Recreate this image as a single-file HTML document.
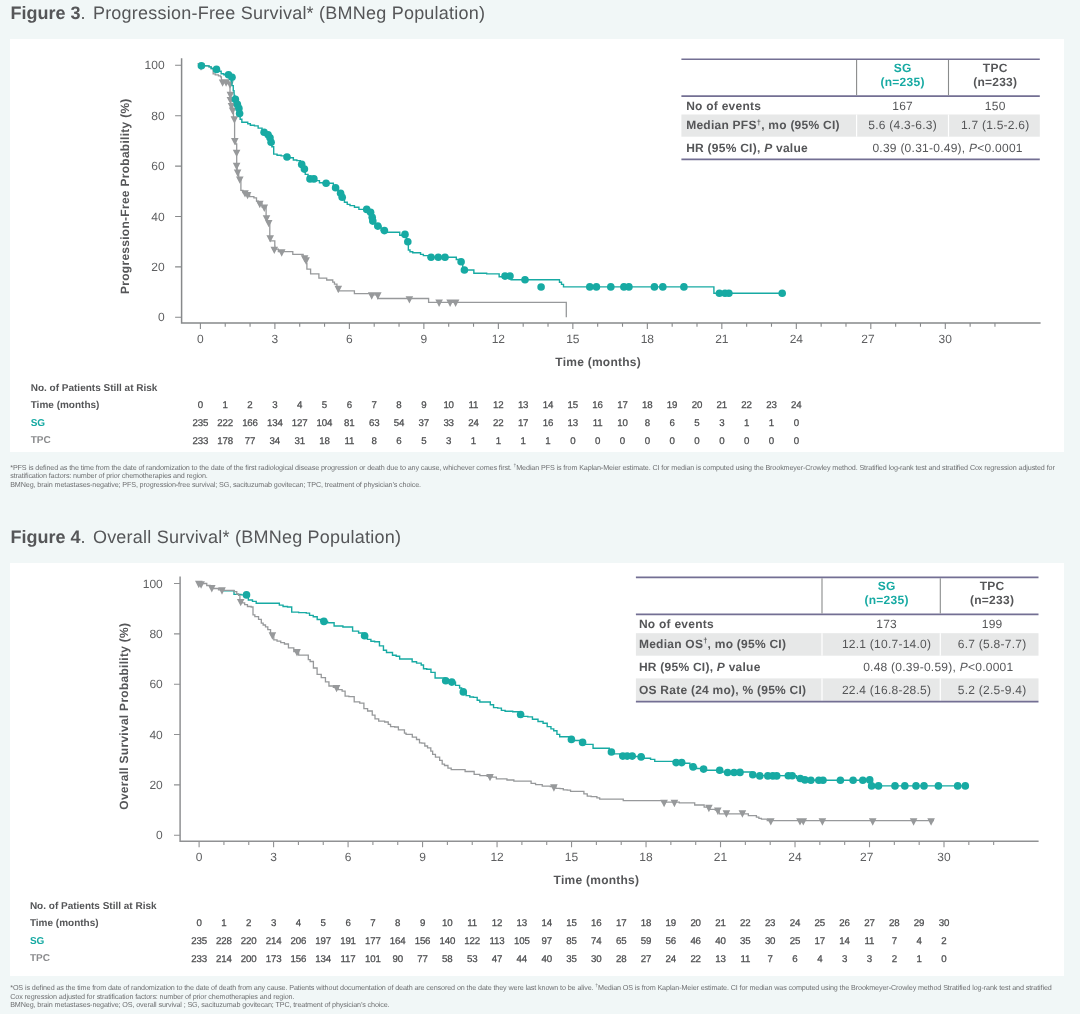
<!DOCTYPE html>
<html><head><meta charset="utf-8"><title>Figures</title>
<style>
html,body{margin:0;padding:0}
body{width:1080px;height:1014px;overflow:hidden;position:relative;background:#f1f7f7;font-family:"Liberation Sans", sans-serif;color:#555658}
</style></head><body>
<svg width="1080" height="1014" viewBox="0 0 1080 1014" style="position:absolute;left:0;top:0;will-change:transform" text-rendering="geometricPrecision" font-family='"Liberation Sans", sans-serif'><rect x="10" y="39" width="1054" height="413" fill="#fff"/><rect x="10" y="563" width="1054" height="413" fill="#fff"/><path d="M181.6,58.3 V323.1 H1040.6" fill="none" stroke="#87898b" stroke-width="1.5"/><path d="M175.1,317.3 H181.6 M175.1,266.9 H181.6 M175.1,216.5 H181.6 M175.1,166.1 H181.6 M175.1,115.7 H181.6 M175.1,65.3 H181.6 M200.4,323.1 V329.1 M225.23,323.1 V326.8 M250.06,323.1 V326.8 M274.89,323.1 V329.1 M299.72,323.1 V326.8 M324.55,323.1 V326.8 M349.38,323.1 V329.1 M374.21,323.1 V326.8 M399.04,323.1 V326.8 M423.87,323.1 V329.1 M448.7,323.1 V326.8 M473.53,323.1 V326.8 M498.36,323.1 V329.1 M523.19,323.1 V326.8 M548.02,323.1 V326.8 M572.85,323.1 V329.1 M597.68,323.1 V326.8 M622.51,323.1 V326.8 M647.34,323.1 V329.1 M672.17,323.1 V326.8 M697,323.1 V326.8 M721.83,323.1 V329.1 M746.66,323.1 V326.8 M771.49,323.1 V326.8 M796.32,323.1 V329.1 M821.15,323.1 V326.8 M845.98,323.1 V326.8 M870.81,323.1 V329.1 M895.64,323.1 V326.8 M920.47,323.1 V326.8 M945.3,323.1 V329.1 M970.13,323.1 V326.8 M994.96,323.1 V326.8" fill="none" stroke="#87898b" stroke-width="1.1"/><g font-size="12" fill="#5e5f61"><text x="164.6" y="321.4" text-anchor="end">0</text><text x="164.6" y="271" text-anchor="end">20</text><text x="164.6" y="220.6" text-anchor="end">40</text><text x="164.6" y="170.2" text-anchor="end">60</text><text x="164.6" y="119.8" text-anchor="end">80</text><text x="164.6" y="69.4" text-anchor="end">100</text><text x="200.4" y="343" text-anchor="middle">0</text><text x="274.89" y="343" text-anchor="middle">3</text><text x="349.38" y="343" text-anchor="middle">6</text><text x="423.87" y="343" text-anchor="middle">9</text><text x="498.36" y="343" text-anchor="middle">12</text><text x="572.85" y="343" text-anchor="middle">15</text><text x="647.34" y="343" text-anchor="middle">18</text><text x="721.83" y="343" text-anchor="middle">21</text><text x="796.32" y="343" text-anchor="middle">24</text><text x="868.01" y="343" text-anchor="middle">27</text><text x="945.3" y="343" text-anchor="middle">30</text></g><text x="555.3" y="365.9" font-size="12" font-weight="bold" letter-spacing="0.25" fill="#555658">Time (months)</text><text transform="translate(129.3,196.2) rotate(-90)" text-anchor="middle" font-size="12" font-weight="bold" letter-spacing="0.28" fill="#555658">Progression-Free Probability (%)</text><path d="M201,65.7 L208.8,65.9 L209.05,65.9 L209.05,66.9 L209.3,66.9 L211.15,66.9 L211.15,68.5 L213,68.5 L213.15,68.5 L213.15,73.8 L213.3,73.8 L215.25,73.8 L215.25,74.8 L217.2,74.8 L218.45,74.8 L218.45,75.8 L219.7,75.8 L220.55,75.8 L220.55,76.8 L221.4,76.8 L221.4,80 L222,80 L222,81.9 L222.6,81.9 L226.1,81.9 L228.05,81.9 L228.05,83.7 L230,83.7 L230,94.5 L230.2,94.5 L230.2,99.4 L230.4,99.4 L230.65,99.4 L230.65,103.4 L230.9,103.4 L231.2,103.4 L231.2,105.4 L231.5,105.4 L232.05,105.4 L232.05,109.9 L232.6,109.9 L233.5,109.9 L233.5,118.7 L234.4,118.7 L234.6,118.7 L234.6,140.4 L234.8,140.4 L235.75,140.4 L235.75,144 L236.7,144 L236.7,164.4 L237.15,164.4 L237.15,171.9 L237.6,171.9 L238.7,171.9 L238.7,178.9 L239.8,178.9 L240.9,178.9 L240.9,190.4 L242.95,190.4 L242.95,192.6 L245,192.6 L246.3,192.6 L246.3,194.4 L247.6,194.4 L249.65,194.4 L249.65,196.7 L251.7,196.7 L253.9,196.7 L253.9,197.8 L256.1,197.8 L256.5,197.8 L256.5,201.1 L256.9,201.1 L258.35,201.1 L258.35,203.3 L259.8,203.3 L262.05,203.3 L262.05,207 L264.3,207 L266.1,207 L266.1,217.6 L267.4,217.6 L267.4,222.4 L268.7,222.4 L269.8,222.4 L269.8,237.6 L270.2,237.6 L270.2,240.9 L270.6,240.9 L274.6,240.9 L274.8,240.9 L274.8,246.1 L275,246.1 L275,249.1 L278.35,249.1 L278.35,251.7 L281.7,251.7 L292.8,251.7 L292.8,254.3 L301.7,254.3 L303.15,254.3 L303.15,257.6 L304.6,257.6 L305.35,257.6 L305.35,259.8 L306.1,259.8 L306.5,259.8 L306.5,263.5 L306.9,263.5 L306.9,269.2 L310.6,269.2 L310.6,273.9 L318.9,273.9 L318.9,278.1 L326.7,278.1 L326.7,280 L332.2,280 L332.75,280 L332.75,282.2 L333.3,282.2 L334.45,282.2 L334.45,284.1 L335.6,284.1 L336.95,284.1 L336.95,288.3 L338.3,288.3 L338.3,290.8 L354.4,290.8 L354.4,293.6 L368.9,293.6 L370.3,293.6 L370.3,294.8 L371.7,294.8 L377.8,294.8 L377.8,298.5 L428.6,298.5 L428.6,302.3 L566.3,302.3 L566.3,317.3" fill="none" stroke="#97999b" stroke-width="1.3" stroke-linejoin="miter"/><path d="M197.2,63.23 L204.8,63.23 L201,70.63 Z M218.8,79.43 L226.4,79.43 L222.6,86.83 Z M222.3,79.23 L229.9,79.23 L226.1,86.63 Z M226.2,81.23 L233.8,81.23 L230,88.63 Z M226.6,91.83 L234.2,91.83 L230.4,99.23 Z M226.6,96.93 L234.2,96.93 L230.4,104.33 Z M227.7,102.93 L235.3,102.93 L231.5,110.33 Z M228.8,107.43 L236.4,107.43 L232.6,114.83 Z M230.6,116.23 L238.2,116.23 L234.4,123.63 Z M231,137.93 L238.6,137.93 L234.8,145.33 Z M232.8,149.63 L240.4,149.63 L236.6,157.03 Z M232.8,162.73 L240.4,162.73 L236.6,170.13 Z M233.8,169.43 L241.4,169.43 L237.6,176.83 Z M236,176.43 L243.6,176.43 L239.8,183.83 Z M241.2,190.13 L248.8,190.13 L245,197.53 Z M243.8,191.93 L251.4,191.93 L247.6,199.33 Z M256,200.83 L263.6,200.83 L259.8,208.23 Z M260.5,204.53 L268.1,204.53 L264.3,211.93 Z M262.7,215.13 L270.3,215.13 L266.5,222.53 Z M264.9,219.93 L272.5,219.93 L268.7,227.33 Z M266.4,235.13 L274,235.13 L270.2,242.53 Z M270.5,246.63 L278.1,246.63 L274.3,254.03 Z M277.9,249.23 L285.5,249.23 L281.7,256.63 Z M300.8,255.13 L308.4,255.13 L304.6,262.53 Z M302.3,257.33 L309.9,257.33 L306.1,264.73 Z M334.5,285.83 L342.1,285.83 L338.3,293.23 Z M367.9,292.33 L375.5,292.33 L371.7,299.73 Z M374,292.33 L381.6,292.33 L377.8,299.73 Z M405.6,296.13 L413.2,296.13 L409.4,303.53 Z M435.3,299.53 L442.9,299.53 L439.1,306.93 Z M446.3,299.53 L453.9,299.53 L450.1,306.93 Z M451.8,299.53 L459.4,299.53 L455.6,306.93 Z" fill="#97999b"/><path d="M201.4,65.7 L208.8,65.9 L209.05,65.9 L209.05,66.9 L209.3,66.9 L211.15,66.9 L211.15,68.5 L213,68.5 L214.75,68.5 L214.75,69.4 L216.5,69.4 L218.1,69.4 L218.1,71.3 L219.7,71.3 L221.15,71.3 L221.15,73.8 L222.6,73.8 L223.85,73.8 L223.85,74.8 L225.1,74.8 L228.5,74.8 L230.1,74.8 L230.1,77.3 L231.7,77.3 L231.5,81.2 L232,81.2 L232,85.6 L232.5,85.6 L233.25,85.6 L233.25,90.6 L234,90.6 L234.2,95.5 L234.8,95.5 L234.8,99.4 L235.4,99.4 L236.4,99.4 L236.4,104.4 L237.4,104.4 L238.15,104.4 L238.15,108.4 L238.9,108.4 L239.25,108.4 L239.25,113.6 L239.6,113.6 L240.15,113.6 L240.15,119.3 L240.7,119.3 L241.85,119.3 L241.85,122.2 L243,122.2 L247.4,122.2 L247.75,122.2 L247.75,123.7 L248.1,123.7 L250.35,123.7 L250.35,125.2 L252.6,125.2 L254.45,125.2 L254.45,125.9 L256.3,125.9 L258.15,125.9 L258.15,128.1 L260,128.1 L262.05,128.1 L262.05,132.2 L264.1,132.2 L266.1,132.2 L266.1,134.8 L268.1,134.8 L269.05,134.8 L269.05,137.8 L270,137.8 L270.55,137.8 L270.55,142.2 L271.1,142.2 L271.85,142.2 L271.85,146.7 L272.6,146.7 L273.7,146.7 L273.7,154.1 L274.8,154.1 L277.05,154.1 L277.05,155.2 L279.3,155.2 L281.15,155.2 L281.15,155.9 L283,155.9 L285,155.9 L285,157 L287,157 L289.45,157 L289.45,157.8 L291.9,157.8 L293.35,157.8 L293.35,160 L294.8,160 L296.85,160 L296.85,160.6 L298.9,160.6 L300.3,160.6 L300.3,164.4 L301.7,164.4 L303.05,164.4 L303.05,169.1 L304.4,169.1 L305.25,169.1 L305.25,174.4 L306.1,174.4 L308.05,174.4 L308.05,178.9 L310,178.9 L313.9,178.9 L315.85,178.9 L315.85,180.6 L317.8,180.6 L319.45,180.6 L319.45,182.8 L321.1,182.8 L323.6,182.8 L323.6,183.3 L326.1,183.3 L331.1,183.3 L333.35,183.3 L333.35,187.8 L335.6,187.8 L338.1,187.8 L338.1,193.3 L340.6,193.3 L341.4,193.3 L341.4,197.2 L342.2,197.2 L344.45,197.2 L344.45,202.2 L346.7,202.2 L347.25,202.2 L347.25,204.4 L347.8,204.4 L350,204.4 L350,205.6 L352.2,205.6 L354.45,205.6 L354.45,207.2 L356.7,207.2 L358.9,207.2 L358.9,209.4 L361.1,209.4 L366.7,209.4 L368.65,209.4 L368.65,212.2 L370.6,212.2 L371.4,212.2 L371.4,217.2 L372.2,217.2 L372.5,217.2 L372.5,221.1 L372.8,221.1 L375.3,221.1 L375.3,226.1 L377.8,226.1 L381.1,226.1 L381.1,230.6 L384.4,230.6 L386.1,230.6 L386.1,232.2 L387.8,232.2 L398.9,232.2 L399.75,232.2 L399.75,235.2 L400.6,235.2 L405,235.2 L406.4,235.2 L406.4,241.7 L407.8,241.7 L408.35,241.7 L408.35,250 L408.9,250 L410,250 L410,251.7 L411.1,251.7 L412.75,251.7 L412.75,252.8 L414.4,252.8 L420,252.8 L420.55,252.8 L420.55,254.4 L421.1,254.4 L423.35,254.4 L423.35,255.6 L425.6,255.6 L428.35,255.6 L428.35,257.2 L431.1,257.2 L455.6,257.2 L456.3,257.2 L456.3,259.5 L457,259.5 L459.05,259.5 L459.05,261.7 L461.1,261.7 L462.75,261.7 L462.75,270 L464.4,270 L473.3,270 L473.85,270 L473.85,273.3 L474.4,273.3 L486.65,273.3 L486.65,273.9 L498.9,273.9 L499.15,273.9 L499.15,276.7 L499.4,276.7 L510,276.7 L511.1,276.7 L511.1,279.8 L512.2,279.8 L559.5,279.8 L559.5,282.2 L561.5,282.2 L561.5,284.4 L563.5,284.4 L563.5,286.9 L713.9,286.9 L713.9,293.3 L782.2,293.3" fill="none" stroke="#17aaa3" stroke-width="1.4"/><g fill="#17aaa3"><circle cx="201.4" cy="65.7" r="3.8"/><circle cx="216.5" cy="69.4" r="3.8"/><circle cx="228.5" cy="74.8" r="3.8"/><circle cx="232" cy="77.3" r="3.8"/><circle cx="235.4" cy="99.4" r="3.8"/><circle cx="237.4" cy="104.4" r="3.8"/><circle cx="238.9" cy="108.4" r="3.8"/><circle cx="239.6" cy="113.6" r="3.8"/><circle cx="264.1" cy="132.2" r="3.8"/><circle cx="268.1" cy="134.8" r="3.8"/><circle cx="270" cy="137.8" r="3.8"/><circle cx="271.1" cy="142.2" r="3.8"/><circle cx="287" cy="157" r="3.8"/><circle cx="301.7" cy="164.4" r="3.8"/><circle cx="304.4" cy="169.1" r="3.8"/><circle cx="310" cy="178.9" r="3.8"/><circle cx="313.9" cy="178.9" r="3.8"/><circle cx="326.1" cy="183.3" r="3.8"/><circle cx="335.6" cy="187.8" r="3.8"/><circle cx="340.6" cy="193.3" r="3.8"/><circle cx="342.2" cy="197.2" r="3.8"/><circle cx="366.7" cy="209.4" r="3.8"/><circle cx="370.6" cy="212.2" r="3.8"/><circle cx="372.2" cy="217.2" r="3.8"/><circle cx="372.8" cy="221.1" r="3.8"/><circle cx="377.8" cy="226.1" r="3.8"/><circle cx="384.4" cy="230.6" r="3.8"/><circle cx="405" cy="234.4" r="3.8"/><circle cx="407.8" cy="241.7" r="3.8"/><circle cx="431.1" cy="257.2" r="3.8"/><circle cx="438.3" cy="257.2" r="3.8"/><circle cx="445" cy="257.2" r="3.8"/><circle cx="461.1" cy="261.7" r="3.8"/><circle cx="464.4" cy="270" r="3.8"/><circle cx="505" cy="276.1" r="3.8"/><circle cx="510" cy="276.1" r="3.8"/><circle cx="525" cy="279.8" r="3.8"/><circle cx="541.1" cy="287" r="3.8"/><circle cx="589.8" cy="286.9" r="3.8"/><circle cx="596.4" cy="286.9" r="3.8"/><circle cx="610.8" cy="286.9" r="3.8"/><circle cx="623.9" cy="286.9" r="3.8"/><circle cx="628.9" cy="286.9" r="3.8"/><circle cx="654.4" cy="286.9" r="3.8"/><circle cx="662.8" cy="286.9" r="3.8"/><circle cx="683.9" cy="286.9" r="3.8"/><circle cx="719.4" cy="293.3" r="3.8"/><circle cx="725" cy="293.3" r="3.8"/><circle cx="728.9" cy="293.3" r="3.8"/><circle cx="782.2" cy="293.3" r="3.8"/></g><rect x="681.4" y="114.5" width="358.4" height="22.2" fill="#e7e8e8"/><rect x="856" y="114.5" width="1.2" height="22.2" fill="#fff"/><rect x="947.9" y="114.5" width="1.2" height="22.2" fill="#fff"/><path d="M681.4,59.3 H1039.8 M681.4,96.1 H1039.8 M681.4,159.4 H1039.8" stroke="#736f93" stroke-width="1.6" fill="none"/><path d="M856.6,60.1 V95.3 M948.5,60.1 V95.3" stroke="#8a8c8c" stroke-width="1.1" fill="none"/><g font-size="12" font-weight="bold" text-anchor="middle" letter-spacing="0.25"><text x="902.6" y="71.5" fill="#17aaa3">SG</text><text x="902.6" y="86.1" fill="#17aaa3">(n=235)</text><text x="995.2" y="71.5" fill="#555658">TPC</text><text x="995.2" y="86.1" fill="#555658">(n=233)</text></g><g font-size="12" fill="#555658" letter-spacing="0.25"><text x="686.2" y="109.8" font-weight="bold">No of events</text><text x="902.6" y="109.8" text-anchor="middle">167</text><text x="995.2" y="109.8" text-anchor="middle">150</text><text x="686.2" y="129.3" font-weight="bold">Median PFS<tspan font-size="7.5" dy="-4.5">†</tspan><tspan dy="4.5">, mo (95% CI)</tspan></text><text x="902.6" y="129.3" text-anchor="middle">5.6 (4.3-6.3)</text><text x="995.2" y="129.3" text-anchor="middle">1.7 (1.5-2.6)</text><text x="686.2" y="152.4" font-weight="bold">HR (95% CI), <tspan font-style="italic">P</tspan> value</text><text x="947.6" y="152.4" text-anchor="middle">0.39 (0.31-0.49), <tspan font-style="italic">P</tspan>&lt;0.0001</text></g><g font-size="10" font-weight="bold"><text x="30.7" y="390.8" fill="#555658">No. of Patients Still at Risk</text><text x="30.7" y="408" fill="#555658">Time (months)</text><text x="30.7" y="425.5" fill="#17aaa3">SG</text><text x="30.7" y="442.9" fill="#8a8b8d">TPC</text></g><g font-size="9.7" fill="#4c4d4f" stroke="#4c4d4f" stroke-width="0.25" text-anchor="middle" letter-spacing="-0.15"><text x="200.33" y="408">0</text><text x="225.16" y="408">1</text><text x="249.99" y="408">2</text><text x="274.82" y="408">3</text><text x="299.65" y="408">4</text><text x="324.48" y="408">5</text><text x="349.31" y="408">6</text><text x="374.14" y="408">7</text><text x="398.97" y="408">8</text><text x="423.8" y="408">9</text><text x="448.63" y="408">10</text><text x="473.46" y="408">11</text><text x="498.29" y="408">12</text><text x="523.12" y="408">13</text><text x="547.95" y="408">14</text><text x="572.78" y="408">15</text><text x="597.61" y="408">16</text><text x="622.44" y="408">17</text><text x="647.27" y="408">18</text><text x="672.1" y="408">19</text><text x="696.93" y="408">20</text><text x="721.76" y="408">21</text><text x="746.59" y="408">22</text><text x="771.42" y="408">23</text><text x="796.25" y="408">24</text><text x="200.33" y="425.6">235</text><text x="225.16" y="425.6">222</text><text x="249.99" y="425.6">166</text><text x="274.82" y="425.6">134</text><text x="299.65" y="425.6">127</text><text x="324.48" y="425.6">104</text><text x="349.31" y="425.6">81</text><text x="374.14" y="425.6">63</text><text x="398.97" y="425.6">54</text><text x="423.8" y="425.6">37</text><text x="448.63" y="425.6">33</text><text x="473.46" y="425.6">24</text><text x="498.29" y="425.6">22</text><text x="523.12" y="425.6">17</text><text x="547.95" y="425.6">16</text><text x="572.78" y="425.6">13</text><text x="597.61" y="425.6">11</text><text x="622.44" y="425.6">10</text><text x="647.27" y="425.6">8</text><text x="672.1" y="425.6">6</text><text x="696.93" y="425.6">5</text><text x="721.76" y="425.6">3</text><text x="746.59" y="425.6">1</text><text x="771.42" y="425.6">1</text><text x="796.25" y="425.6">0</text><text x="200.33" y="444.1">233</text><text x="225.16" y="444.1">178</text><text x="249.99" y="444.1">77</text><text x="274.82" y="444.1">34</text><text x="299.65" y="444.1">31</text><text x="324.48" y="444.1">18</text><text x="349.31" y="444.1">11</text><text x="374.14" y="444.1">8</text><text x="398.97" y="444.1">6</text><text x="423.8" y="444.1">5</text><text x="448.63" y="444.1">3</text><text x="473.46" y="444.1">1</text><text x="498.29" y="444.1">1</text><text x="523.12" y="444.1">1</text><text x="547.95" y="444.1">1</text><text x="572.78" y="444.1">0</text><text x="597.61" y="444.1">0</text><text x="622.44" y="444.1">0</text><text x="647.27" y="444.1">0</text><text x="672.1" y="444.1">0</text><text x="696.93" y="444.1">0</text><text x="721.76" y="444.1">0</text><text x="746.59" y="444.1">0</text><text x="771.42" y="444.1">0</text><text x="796.25" y="444.1">0</text></g><path d="M180.1,576.6 V841.3 H1038.6" fill="none" stroke="#909193" stroke-width="1.5"/><path d="M174,835.2 H180.1 M174,784.86 H180.1 M174,734.52 H180.1 M174,684.18 H180.1 M174,633.84 H180.1 M174,583.5 H180.1 M199.1,841.3 V847.3 M223.93,841.3 V845 M248.76,841.3 V845 M273.59,841.3 V847.3 M298.42,841.3 V845 M323.25,841.3 V845 M348.08,841.3 V847.3 M372.91,841.3 V845 M397.74,841.3 V845 M422.57,841.3 V847.3 M447.4,841.3 V845 M472.23,841.3 V845 M497.06,841.3 V847.3 M521.89,841.3 V845 M546.72,841.3 V845 M571.55,841.3 V847.3 M596.38,841.3 V845 M621.21,841.3 V845 M646.04,841.3 V847.3 M670.87,841.3 V845 M695.7,841.3 V845 M720.53,841.3 V847.3 M745.36,841.3 V845 M770.19,841.3 V845 M795.02,841.3 V847.3 M819.85,841.3 V845 M844.68,841.3 V845 M869.51,841.3 V847.3 M894.34,841.3 V845 M919.17,841.3 V845 M944,841.3 V847.3 M968.83,841.3 V845 M993.66,841.3 V845" fill="none" stroke="#909193" stroke-width="1.1"/><g font-size="12" fill="#5e5f61"><text x="162.8" y="839.3" text-anchor="end">0</text><text x="162.8" y="788.96" text-anchor="end">20</text><text x="162.8" y="738.62" text-anchor="end">40</text><text x="162.8" y="688.28" text-anchor="end">60</text><text x="162.8" y="637.94" text-anchor="end">80</text><text x="162.8" y="587.6" text-anchor="end">100</text><text x="199.1" y="861.2" text-anchor="middle">0</text><text x="273.59" y="861.2" text-anchor="middle">3</text><text x="348.08" y="861.2" text-anchor="middle">6</text><text x="422.57" y="861.2" text-anchor="middle">9</text><text x="497.06" y="861.2" text-anchor="middle">12</text><text x="571.55" y="861.2" text-anchor="middle">15</text><text x="646.04" y="861.2" text-anchor="middle">18</text><text x="720.53" y="861.2" text-anchor="middle">21</text><text x="795.02" y="861.2" text-anchor="middle">24</text><text x="866.71" y="861.2" text-anchor="middle">27</text><text x="944" y="861.2" text-anchor="middle">30</text></g><text x="553.6" y="884.4" font-size="12" font-weight="bold" letter-spacing="0.25" fill="#555658">Time (months)</text><text transform="translate(127.6,716.2) rotate(-90)" text-anchor="middle" font-size="12" font-weight="bold" letter-spacing="0.28" fill="#555658">Overall Survival Probability (%)</text><path d="M222.5,590.3 L223.85,590.3 L223.85,590.7 L225.2,590.7 L232.6,590.7 L234,590.7 L234,594.4 L235.4,594.4 L240.95,594.4 L240.95,594.9 L246.5,594.9 L248.35,594.9 L248.35,600 L250.2,600 L252.5,600 L252.5,601.4 L254.8,601.4 L256.2,601.4 L256.2,603.2 L257.6,603.2 L278,603.2 L279.35,603.2 L279.35,605.1 L280.7,605.1 L283.05,605.1 L283.05,606.5 L285.4,606.5 L287.5,606.5 L287.5,607 L289.6,607 L291.7,607 L291.7,612.1 L293.8,612.1 L298.65,612.1 L298.65,612.6 L303.5,612.6 L306.3,612.6 L306.3,613.1 L309.1,613.1 L309.55,613.1 L309.55,615.4 L310,615.4 L313.25,615.4 L313.25,616.8 L316.5,616.8 L317.2,616.8 L317.2,619.5 L317.9,619.5 L320.9,619.5 L320.9,621.4 L323.9,621.4 L327.6,621.4 L327.6,622.8 L331.3,622.8 L334.1,622.8 L334.1,626 L336.9,626 L342.9,626 L342.9,627 L348.9,627 L352.6,627 L352.6,631.1 L356.3,631.1 L358.6,631.1 L358.6,633 L360.9,633 L362.75,633 L362.75,635.7 L364.6,635.7 L367.4,635.7 L367.4,639.4 L370.2,639.4 L370.9,639.4 L370.9,641.3 L371.6,641.3 L374.6,641.3 L374.6,641.8 L377.6,641.8 L379.45,641.8 L379.45,645.9 L381.3,645.9 L383.45,645.9 L383.45,650.2 L385.6,650.2 L386.5,650.2 L386.5,652.5 L387.4,652.5 L391.1,652.5 L392.5,652.5 L392.5,655.3 L393.9,655.3 L396.2,655.3 L396.2,656.2 L398.5,656.2 L399.65,656.2 L399.65,659 L400.8,659 L411,659 L412.15,659 L412.15,661.8 L413.3,661.8 L416.55,661.8 L416.55,663.1 L419.8,663.1 L421.2,663.1 L421.2,665 L422.6,665 L423.5,665 L423.5,668.7 L424.4,668.7 L426.75,668.7 L426.75,669.2 L429.1,669.2 L430.95,669.2 L430.95,672.4 L432.8,672.4 L435.1,672.4 L435.1,678 L437.4,678 L443,678 L444.35,678 L444.35,680.7 L445.7,680.7 L448.75,680.7 L448.75,682.1 L451.8,682.1 L455.5,682.1 L455.5,685.4 L459.2,685.4 L459.6,685.4 L459.6,688 L460,688 L461.65,688 L461.65,691.9 L463.3,691.9 L466.1,691.9 L466.1,695.6 L468.9,695.6 L469.8,695.6 L469.8,697 L470.7,697 L473.5,697 L473.5,697.4 L476.3,697.4 L477.2,697.4 L477.2,700.2 L478.1,700.2 L479.8,700.2 L479.8,702 L481.5,702 L488.9,702 L490.3,702 L490.3,704.8 L491.7,704.8 L493.55,704.8 L493.55,707.6 L495.4,707.6 L497.7,707.6 L497.7,708.1 L500,708.1 L501.4,708.1 L501.4,710.4 L502.8,710.4 L505.1,710.4 L505.1,711.3 L507.4,711.3 L512.7,711.3 L512.7,711.8 L518,711.8 L519.3,711.8 L519.3,714.5 L520.6,714.5 L522.8,714.5 L522.8,716.4 L525,716.4 L527.8,716.4 L527.8,716.9 L530.6,716.9 L532.45,716.9 L532.45,719.2 L534.3,719.2 L538,719.2 L538,721.5 L541.7,721.5 L543.05,721.5 L543.05,723.3 L544.4,723.3 L547.2,723.3 L547.2,726.6 L550,726.6 L550.95,726.6 L550.95,728.9 L551.9,728.9 L553.75,728.9 L553.75,730.7 L555.6,730.7 L556.95,730.7 L556.95,734.4 L558.3,734.4 L559.7,734.4 L559.7,736.8 L561.1,736.8 L567.6,736.8 L569.5,736.8 L569.5,739.4 L571.4,739.4 L574.2,739.4 L574.2,740.5 L577,740.5 L579.8,740.5 L579.8,742.4 L582.6,742.4 L584.9,742.4 L584.9,744.4 L587.2,744.4 L592.2,744.4 L593.05,744.4 L593.05,748.3 L593.9,748.3 L607.2,748.3 L609.3,748.3 L609.3,752 L611.4,752 L614.3,752 L614.3,753.9 L617.2,753.9 L620,753.9 L620,756.1 L622.8,756.1 L631.95,756.1 L631.95,756.5 L641.1,756.5 L644.15,756.5 L644.15,758.3 L647.2,758.3 L650.55,758.3 L650.55,759.4 L653.9,759.4 L654.75,759.4 L654.75,761.4 L655.6,761.4 L675,761.4 L678.35,761.4 L678.35,762.6 L681.7,762.6 L684.2,762.6 L684.2,763.3 L686.7,763.3 L689.9,763.3 L689.9,766.9 L693.1,766.9 L696.55,766.9 L696.55,768.5 L700,768.5 L701.8,768.5 L701.8,769.1 L703.6,769.1 L705.7,769.1 L705.7,770.2 L707.8,770.2 L719.7,770.2 L722.35,770.2 L722.35,772 L725,772 L750,772 L751.4,772 L751.4,775.6 L752.8,775.6 L795,775.7 L796.5,775.7 L796.5,778.3 L798,778.3 L800.5,778.3 L800.5,780.2 L803,780.2 L869.7,780.2 L870.65,780.2 L870.65,785.9 L871.6,785.9 L965.3,785.9" fill="none" stroke="#17aaa3" stroke-width="1.4"/><g fill="#17aaa3"><circle cx="246.5" cy="594.9" r="3.8"/><circle cx="323.9" cy="621.4" r="3.8"/><circle cx="364.6" cy="635.7" r="3.8"/><circle cx="445.7" cy="680.7" r="3.8"/><circle cx="451.8" cy="682.1" r="3.8"/><circle cx="463.3" cy="691.9" r="3.8"/><circle cx="520.6" cy="714.5" r="3.8"/><circle cx="571.4" cy="739.4" r="3.8"/><circle cx="582.6" cy="742.4" r="3.8"/><circle cx="611.4" cy="752" r="3.8"/><circle cx="622.8" cy="756.1" r="3.8"/><circle cx="627.2" cy="756.1" r="3.8"/><circle cx="632.2" cy="756.1" r="3.8"/><circle cx="641.1" cy="756.9" r="3.8"/><circle cx="676.1" cy="762.6" r="3.8"/><circle cx="681.7" cy="762.6" r="3.8"/><circle cx="693.1" cy="766.9" r="3.8"/><circle cx="703.6" cy="769.1" r="3.8"/><circle cx="719.7" cy="770.2" r="3.8"/><circle cx="727.6" cy="772.5" r="3.8"/><circle cx="734.1" cy="772.5" r="3.8"/><circle cx="740" cy="772.4" r="3.8"/><circle cx="752.8" cy="774.7" r="3.8"/><circle cx="759.8" cy="775.9" r="3.8"/><circle cx="767.8" cy="775.9" r="3.8"/><circle cx="772.8" cy="775.9" r="3.8"/><circle cx="776.7" cy="775.9" r="3.8"/><circle cx="788.3" cy="775.8" r="3.8"/><circle cx="792.2" cy="775.8" r="3.8"/><circle cx="800.3" cy="778.5" r="3.8"/><circle cx="804.9" cy="779.9" r="3.8"/><circle cx="810.9" cy="780.2" r="3.8"/><circle cx="818.8" cy="780.2" r="3.8"/><circle cx="823" cy="780.2" r="3.8"/><circle cx="840.4" cy="780.2" r="3.8"/><circle cx="853.1" cy="780.2" r="3.8"/><circle cx="862.8" cy="780.2" r="3.8"/><circle cx="869.7" cy="779.9" r="3.8"/><circle cx="871.6" cy="785.9" r="3.8"/><circle cx="878.5" cy="785.9" r="3.8"/><circle cx="895" cy="785.9" r="3.8"/><circle cx="904.8" cy="785.9" r="3.8"/><circle cx="916" cy="785.9" r="3.8"/><circle cx="924" cy="785.9" r="3.8"/><circle cx="938.4" cy="785.9" r="3.8"/><circle cx="957.7" cy="785.9" r="3.8"/><circle cx="965.3" cy="785.9" r="3.8"/></g><path d="M199,583.5 L205,583.5 L206.75,583.5 L206.75,585.5 L208.5,585.5 L210.25,585.5 L210.25,587.5 L212,587.5 L213.5,587.5 L213.5,588.5 L215,588.5 L218.5,588.5 L218.5,589.8 L222,589.8 L223.6,589.8 L223.6,590.3 L225.2,590.3 L232.6,590.3 L234,590.3 L234,591.7 L235.4,591.7 L236.75,591.7 L236.75,594 L238.1,594 L238.6,594 L238.6,595.4 L239.1,595.4 L239.9,595.4 L239.9,601.4 L240.7,601.4 L242.2,601.4 L242.2,602.8 L243.7,602.8 L244.65,602.8 L244.65,604.6 L245.6,604.6 L247.45,604.6 L247.45,606.5 L249.3,606.5 L251.15,606.5 L251.15,607 L253,607 L253,614.8 L254.85,614.8 L254.85,616.7 L256.7,616.7 L258.55,616.7 L258.55,619.4 L260.4,619.4 L261.3,619.4 L261.3,623.1 L262.2,623.1 L263.15,623.1 L263.15,625 L264.1,625 L265.5,625 L265.5,626.9 L266.9,626.9 L267.8,626.9 L267.8,629.6 L268.7,629.6 L270.55,629.6 L270.55,634.7 L272.4,634.7 L273.8,634.7 L273.8,639.8 L275.2,639.8 L277.05,639.8 L277.05,641.2 L278.9,641.2 L280.75,641.2 L280.75,642.6 L282.6,642.6 L284.45,642.6 L284.45,644 L286.3,644 L288.45,644 L288.45,647.8 L290.6,647.8 L293.8,647.8 L293.8,651.5 L297,651.5 L298.65,651.5 L298.65,655.2 L300.3,655.2 L308.3,655.2 L308.3,659.6 L310.15,659.6 L310.15,661.5 L312,661.5 L313.4,661.5 L313.4,668 L314.8,668 L317.1,668 L317.1,674.4 L319.4,674.4 L321.25,674.4 L321.25,677.7 L323.1,677.7 L325.45,677.7 L325.45,681.9 L327.8,681.9 L328.95,681.9 L328.95,686 L330.1,686 L333.35,686 L333.35,687.4 L336.6,687.4 L338.2,687.4 L338.2,689.7 L339.8,689.7 L342.1,689.7 L342.1,691.1 L344.4,691.1 L345.1,691.1 L345.1,696.2 L345.8,696.2 L348.85,696.2 L348.85,696.7 L351.9,696.7 L354.2,696.7 L354.2,701.8 L356.5,701.8 L359.75,701.8 L359.75,703.1 L363,703.1 L363.9,703.1 L363.9,708.7 L364.8,708.7 L367.6,708.7 L367.6,711 L370.4,711 L372.25,711 L372.25,715.2 L374.1,715.2 L375,715.2 L375,718.9 L375.9,718.9 L378.7,718.9 L378.7,721.2 L381.5,721.2 L384.65,721.2 L384.65,722 L387.8,722 L388.25,722 L388.25,724.3 L388.7,724.3 L390.55,724.3 L390.55,726.6 L392.4,726.6 L394.7,726.6 L394.7,727 L397,727 L398.4,727 L398.4,729.8 L399.8,729.8 L404,729.8 L404.45,729.8 L404.45,733.1 L404.9,733.1 L406.05,733.1 L406.05,734.4 L407.2,734.4 L410.9,734.4 L412.3,734.4 L412.3,737.2 L413.7,737.2 L416.5,737.2 L416.5,739.5 L419.3,739.5 L419.5,739.5 L419.5,742.8 L419.7,742.8 L421.8,742.8 L421.8,743.2 L423.9,743.2 L424.8,743.2 L424.8,746 L425.7,746 L427.55,746 L427.55,747.9 L429.4,747.9 L430.8,747.9 L430.8,751.1 L432.2,751.1 L432.65,751.1 L432.65,754.4 L433.1,754.4 L435.45,754.4 L435.45,757.1 L437.8,757.1 L439.65,757.1 L439.65,760.4 L441.5,760.4 L442.2,760.4 L442.2,764.1 L442.9,764.1 L444.5,764.1 L444.5,765.5 L446.1,765.5 L447.95,765.5 L447.95,768.2 L449.8,768.2 L451.2,768.2 L451.2,769.6 L452.6,769.6 L464.6,769.6 L465.1,769.6 L465.1,771.5 L465.6,771.5 L473,771.5 L474.15,771.5 L474.15,774.3 L475.3,774.3 L479.85,774.3 L479.85,775.6 L484.4,775.6 L487.2,775.6 L487.2,776.4 L490,776.4 L492.2,776.4 L492.2,777.2 L494.4,777.2 L496.35,777.2 L496.35,778.9 L498.3,778.9 L506.7,778.9 L506.95,778.9 L506.95,780 L507.2,780 L513.3,780 L513.85,780 L513.85,781.1 L514.4,781.1 L528.9,781.1 L531.1,781.1 L531.1,783.3 L533.3,783.3 L535.55,783.3 L535.55,784.7 L537.8,784.7 L542.25,784.7 L542.25,786.1 L546.7,786.1 L550.3,786.1 L550.3,786.7 L553.9,786.7 L555.85,786.7 L555.85,788.3 L557.8,788.3 L560,788.3 L560,788.7 L562.2,788.7 L563.3,788.7 L563.3,789.8 L564.4,789.8 L567.2,789.8 L567.2,790.2 L570,790.2 L570.55,790.2 L570.55,791.3 L571.1,791.3 L581.1,791.3 L583.9,791.3 L583.9,793.9 L586.7,793.9 L587.25,793.9 L587.25,796.1 L587.8,796.1 L591.1,796.1 L591.1,796.7 L594.4,796.7 L596.9,796.7 L596.9,797.8 L599.4,797.8 L599.7,797.8 L599.7,799.2 L600,799.2 L622.8,799.2 L623.25,799.2 L623.25,800.6 L623.7,800.6 L660.6,800.6 L662.35,800.6 L662.35,802.2 L664.1,802.2 L679.25,802.2 L679.25,802.8 L694.4,802.8 L694.7,802.8 L694.7,805 L695,805 L703.3,805 L704.15,805 L704.15,807.2 L705,807.2 L708.9,807.2 L708.9,809.4 L712.8,809.4 L715.3,809.4 L715.3,810 L717.8,810 L719.2,810 L719.2,813.9 L720.6,813.9 L747.8,813.9 L748.35,813.9 L748.35,815.6 L748.9,815.6 L756.1,815.6 L756.4,815.6 L756.4,817.2 L756.7,817.2 L758.9,817.2 L758.9,818.3 L761.1,818.3 L761.4,818.3 L761.4,819.2 L761.7,819.2 L766.7,819.2 L767.25,819.2 L767.25,820.7 L767.8,820.7 L934,820.7" fill="none" stroke="#97999b" stroke-width="1.3"/><path d="M195,580.83 L202.6,580.83 L198.8,588.23 Z M197.3,581.33 L204.9,581.33 L201.1,588.73 Z M208,585.03 L215.6,585.03 L211.8,592.43 Z M218.2,587.33 L225.8,587.33 L222,594.73 Z M236.9,598.93 L244.5,598.93 L240.7,606.33 Z M268.6,632.23 L276.2,632.23 L272.4,639.63 Z M293.2,649.03 L300.8,649.03 L297,656.43 Z M332.8,684.93 L340.4,684.93 L336.6,692.33 Z M486.2,773.93 L493.8,773.93 L490,781.33 Z M550.1,784.23 L557.7,784.23 L553.9,791.63 Z M660.3,799.73 L667.9,799.73 L664.1,807.13 Z M670.6,799.73 L678.2,799.73 L674.4,807.13 Z M705.1,804.73 L712.7,804.73 L708.9,812.13 Z M714,807.53 L721.6,807.53 L717.8,814.93 Z M722.6,810.33 L730.2,810.33 L726.4,817.73 Z M738.6,810.33 L746.2,810.33 L742.4,817.73 Z M767,818.13 L774.6,818.13 L770.8,825.53 Z M796.2,818.13 L803.8,818.13 L800,825.53 Z M799.5,818.13 L807.1,818.13 L803.3,825.53 Z M818.6,818.23 L826.2,818.23 L822.4,825.63 Z M868.9,818.23 L876.5,818.23 L872.7,825.63 Z M909.8,818.23 L917.4,818.23 L913.6,825.63 Z M927.3,818.23 L934.9,818.23 L931.1,825.63 Z" fill="#97999b"/><rect x="635.9" y="633.2" width="402.6" height="22.5" fill="#e7e8e8"/><rect x="821.4" y="633.2" width="1.2" height="22.5" fill="#fff"/><rect x="939.7" y="633.2" width="1.2" height="22.5" fill="#fff"/><rect x="635.9" y="678.4" width="402.6" height="22.5" fill="#e7e8e8"/><rect x="821.4" y="678.4" width="1.2" height="22.5" fill="#fff"/><rect x="939.7" y="678.4" width="1.2" height="22.5" fill="#fff"/><path d="M635.9,577.4 H1038.5 M635.9,614.4 H1038.5 M635.9,701.6 H1038.5" stroke="#736f93" stroke-width="1.6" fill="none"/><path d="M822,578.2 V613.6 M940.3,578.2 V613.6" stroke="#8a8c8c" stroke-width="1.1" fill="none"/><g font-size="12" font-weight="bold" text-anchor="middle" letter-spacing="0.25"><text x="886.6" y="589.6" fill="#17aaa3">SG</text><text x="886.6" y="604.2" fill="#17aaa3">(n=235)</text><text x="992.1" y="589.6" fill="#555658">TPC</text><text x="992.1" y="604.2" fill="#555658">(n=233)</text></g><g font-size="12" fill="#555658" letter-spacing="0.25"><text x="638.9" y="627.6" font-weight="bold">No of events</text><text x="886.6" y="627.6" text-anchor="middle">173</text><text x="992.1" y="627.6" text-anchor="middle">199</text><text x="638.9" y="647.6" font-weight="bold">Median OS<tspan font-size="7.5" dy="-4.5">†</tspan><tspan dy="4.5">, mo (95% CI)</tspan></text><text x="886.6" y="647.6" text-anchor="middle">12.1 (10.7-14.0)</text><text x="992.1" y="647.6" text-anchor="middle">6.7 (5.8-7.7)</text><text x="638.9" y="670.6" font-weight="bold">HR (95% CI), <tspan font-style="italic">P</tspan> value</text><text x="938.3" y="670.6" text-anchor="middle">0.48 (0.39-0.59), <tspan font-style="italic">P</tspan>&lt;0.0001</text><text x="638.9" y="693.5" font-weight="bold">OS Rate (24 mo), % (95% CI)</text><text x="886.6" y="693.5" text-anchor="middle">22.4 (16.8-28.5)</text><text x="992.1" y="693.5" text-anchor="middle">5.2 (2.5-9.4)</text></g><g font-size="10" font-weight="bold"><text x="29.9" y="909" fill="#555658">No. of Patients Still at Risk</text><text x="29.9" y="926.2" fill="#555658">Time (months)</text><text x="29.9" y="943.7" fill="#17aaa3">SG</text><text x="29.9" y="961.1" fill="#8a8b8d">TPC</text></g><g font-size="9.7" fill="#4c4d4f" stroke="#4c4d4f" stroke-width="0.25" text-anchor="middle" letter-spacing="-0.15"><text x="199.03" y="926.2">0</text><text x="223.86" y="926.2">1</text><text x="248.69" y="926.2">2</text><text x="273.52" y="926.2">3</text><text x="298.35" y="926.2">4</text><text x="323.18" y="926.2">5</text><text x="348.01" y="926.2">6</text><text x="372.84" y="926.2">7</text><text x="397.67" y="926.2">8</text><text x="422.5" y="926.2">9</text><text x="447.33" y="926.2">10</text><text x="472.16" y="926.2">11</text><text x="496.99" y="926.2">12</text><text x="521.82" y="926.2">13</text><text x="546.65" y="926.2">14</text><text x="571.48" y="926.2">15</text><text x="596.31" y="926.2">16</text><text x="621.14" y="926.2">17</text><text x="645.97" y="926.2">18</text><text x="670.8" y="926.2">19</text><text x="695.63" y="926.2">20</text><text x="720.46" y="926.2">21</text><text x="745.29" y="926.2">22</text><text x="770.12" y="926.2">23</text><text x="794.95" y="926.2">24</text><text x="819.78" y="926.2">25</text><text x="844.61" y="926.2">26</text><text x="869.44" y="926.2">27</text><text x="894.27" y="926.2">28</text><text x="919.1" y="926.2">29</text><text x="943.93" y="926.2">30</text><text x="199.03" y="943.8">235</text><text x="223.86" y="943.8">228</text><text x="248.69" y="943.8">220</text><text x="273.52" y="943.8">214</text><text x="298.35" y="943.8">206</text><text x="323.18" y="943.8">197</text><text x="348.01" y="943.8">191</text><text x="372.84" y="943.8">177</text><text x="397.67" y="943.8">164</text><text x="422.5" y="943.8">156</text><text x="447.33" y="943.8">140</text><text x="472.16" y="943.8">122</text><text x="496.99" y="943.8">113</text><text x="521.82" y="943.8">105</text><text x="546.65" y="943.8">97</text><text x="571.48" y="943.8">85</text><text x="596.31" y="943.8">74</text><text x="621.14" y="943.8">65</text><text x="645.97" y="943.8">59</text><text x="670.8" y="943.8">56</text><text x="695.63" y="943.8">46</text><text x="720.46" y="943.8">40</text><text x="745.29" y="943.8">35</text><text x="770.12" y="943.8">30</text><text x="794.95" y="943.8">25</text><text x="819.78" y="943.8">17</text><text x="844.61" y="943.8">14</text><text x="869.44" y="943.8">11</text><text x="894.27" y="943.8">7</text><text x="919.1" y="943.8">4</text><text x="943.93" y="943.8">2</text><text x="199.03" y="962.3">233</text><text x="223.86" y="962.3">214</text><text x="248.69" y="962.3">200</text><text x="273.52" y="962.3">173</text><text x="298.35" y="962.3">156</text><text x="323.18" y="962.3">134</text><text x="348.01" y="962.3">117</text><text x="372.84" y="962.3">101</text><text x="397.67" y="962.3">90</text><text x="422.5" y="962.3">77</text><text x="447.33" y="962.3">58</text><text x="472.16" y="962.3">53</text><text x="496.99" y="962.3">47</text><text x="521.82" y="962.3">44</text><text x="546.65" y="962.3">40</text><text x="571.48" y="962.3">35</text><text x="596.31" y="962.3">30</text><text x="621.14" y="962.3">28</text><text x="645.97" y="962.3">27</text><text x="670.8" y="962.3">24</text><text x="695.63" y="962.3">22</text><text x="720.46" y="962.3">13</text><text x="745.29" y="962.3">11</text><text x="770.12" y="962.3">7</text><text x="794.95" y="962.3">6</text><text x="819.78" y="962.3">4</text><text x="844.61" y="962.3">3</text><text x="869.44" y="962.3">3</text><text x="894.27" y="962.3">2</text><text x="919.1" y="962.3">1</text><text x="943.93" y="962.3">0</text></g><g font-size="7.2" fill="#6f7072"><text x="10.2" y="469.6" textLength="1044.6" lengthAdjust="spacing">*PFS is defined as the time from the date of randomization to the date of the first radiological disease progression or death due to any cause, whichever comes first. <tspan font-size="5" dy="-2.5">†</tspan><tspan dy="2.5">Median PFS is from Kaplan-Meier estimate. CI for median is computed using the Brookmeyer-Crowley method. Stratified log-rank test and stratified Cox regression adjusted for</tspan></text><text x="10.2" y="478.2" textLength="197.6" lengthAdjust="spacing">stratification factors: number of prior chemotherapies and region.</text><text x="10.2" y="486.9" textLength="410.9" lengthAdjust="spacing">BMNeg, brain metastases-negative; PFS, progression-free survival; SG, sacituzumab govitecan; TPC, treatment of physician’s choice.</text></g><g font-size="7.2" fill="#6f7072"><text x="10.2" y="989.8" textLength="1041.6" lengthAdjust="spacing">*OS is defined as the time from date of randomization to the date of death from any cause. Patients without documentation of death are censored on the date they were last known to be alive. <tspan font-size="5" dy="-2.5">†</tspan><tspan dy="2.5">Median OS is from Kaplan-Meier estimate. CI for median was computed using the Brookmeyer-Crowley method Stratified log-rank test and stratified</tspan></text><text x="10.2" y="998.5" textLength="284.2" lengthAdjust="spacing">Cox regression adjusted for stratification factors: number of prior chemotherapies and region.</text><text x="10.2" y="1007.2" textLength="379.4" lengthAdjust="spacing">BMNeg, brain metastases-negative; OS, overall survival ; SG, sacituzumab govitecan; TPC, treatment of physician’s choice.</text></g><g font-size="18" fill="#555658"><text x="10.6" y="19.3"><tspan font-weight="bold">Figure 3</tspan>.<tspan dx="7.3" letter-spacing="0.225">Progression-Free Survival* (BMNeg Population)</tspan></text><text x="10.6" y="543.2"><tspan font-weight="bold">Figure 4</tspan>.<tspan dx="7.3" letter-spacing="0.225">Overall Survival* (BMNeg Population)</tspan></text></g></svg>
</body></html>
